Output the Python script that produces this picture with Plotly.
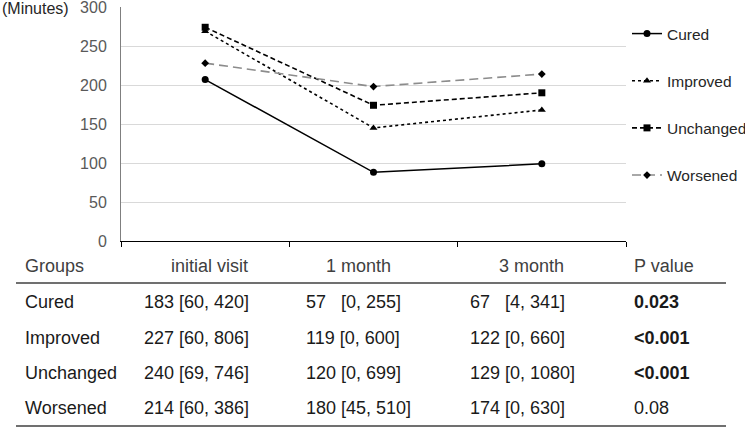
import plotly.graph_objects as go

# ---- data ----
timepoints = ["initial visit", "1 month", "3 month"]
groups = ["Cured", "Improved", "Unchanged", "Worsened"]
cured = [207, 88, 99]
improved = [269, 145, 168]
unchanged = [274, 174, 190]
worsened = [228, 198, 214]
y_ticks = [0, 50, 100, 150, 200, 250, 300]

table_header = ["Groups", "initial visit", "1 month", "3 month", "P value"]
col_initial = ["183 [60, 420]", "227 [60, 806]", "240 [69, 746]", "214 [60, 386]"]
col_1m = ["57\u00a0\u00a0 [0, 255]", "119 [0, 600]", "120 [0, 699]", "180 [45, 510]"]
col_3m = ["67\u00a0\u00a0 [4, 341]", "122 [0, 660]", "129 [0, 1080]", "174 [0, 630]"]
col_p = ["0.023", "<0.001", "<0.001", "0.08"]
p_bold = [True, True, True, False]

# ---- layout geometry (pixels) ----
W, H = 745, 428
L, R, T, B = 121, 626, 7, 241
FONT = "Arial, Liberation Sans, sans-serif"


def px_x(x):
    return (x - L) / (R - L)


def px_y(y):
    return (B - y) / (B - T)


styles = [
    dict(color="black", dash="solid", width=1.5, symbol="circle", msize=7),
    dict(color="black", dash="dot", width=1.6, symbol="triangle-up", msize=7),
    dict(color="black", dash="5px,3px", width=1.6, symbol="square", msize=7),
    dict(color="#8c8c8c", dash="9px,5px", width=1.6, symbol="diamond", msize=6),
]
series = [cured, improved, unchanged, worsened]

fig = go.Figure()
for name, vals, st in zip(groups, series, styles):
    fig.add_trace(go.Scatter(
        x=timepoints, y=vals, name=name, mode="lines+markers",
        legendgroup=name,
        line=dict(color=st["color"], dash=st["dash"], width=st["width"]),
        marker=dict(color="black", symbol=st["symbol"], size=st["msize"]),
    ))

annotations = []


def ann(text, x, y, anchor, size, color):
    annotations.append(dict(text=text, x=px_x(x), y=px_y(y), xref="paper", yref="paper",
                            xanchor=anchor, yanchor="middle", showarrow=False,
                            font=dict(size=size, color=color, family=FONT)))


ann("(Minutes)", 0, 9, "left", 16, "#262626")

# table header
header_x = [23, 250, 358, 531, 632]
header_anchor = ["left", "right", "center", "center", "left"]
header_y = 266
for txt, x, a in zip(table_header, header_x, header_anchor):
    ann(txt, x, header_y, a, 18, "#404040")

row_y = [302, 338, 373, 408]
col_x = [23, 142, 304, 468, 632]
for i, g in enumerate(groups):
    p_txt = col_p[i].replace("<", "&lt;")
    cells = [g, col_initial[i], col_1m[i], col_3m[i],
             ("<b>%s</b>" % p_txt) if p_bold[i] else p_txt]
    for txt, x in zip(cells, col_x):
        ann(txt, x, row_y[i], "left", 18, "#1a1a1a")

shapes = [
    dict(type="line", xref="paper", yref="paper", x0=px_x(16), x1=px_x(726),
         y0=px_y(283), y1=px_y(283), line=dict(color="#404040", width=1.3)),
    dict(type="line", xref="paper", yref="paper", x0=px_x(16), x1=px_x(726),
         y0=px_y(426), y1=px_y(426), line=dict(color="#404040", width=1.3)),
]

fig.update_layout(
    width=W, height=H,
    margin=dict(l=L, r=W - R, t=T, b=H - B, pad=0, autoexpand=False),
    paper_bgcolor="white", plot_bgcolor="white",
    font=dict(family=FONT, size=15, color="#262626"),
    showlegend=True,
    legend=dict(x=px_x(627), y=px_y(17), xanchor="left", yanchor="top",
                tracegroupgap=24, itemwidth=30, font=dict(size=15.5, color="#262626"),
                bgcolor="rgba(0,0,0,0)"),
    annotations=annotations,
    shapes=shapes,
)
fig.update_xaxes(type="category", showticklabels=False, showgrid=False,
                 showline=True, linecolor="black", linewidth=1.3,
                 ticks="outside", tickson="boundaries", ticklen=5,
                 tickcolor="black", range=[-0.5, 2.5])
fig.update_yaxes(range=[0, 300], tickvals=y_ticks, showgrid=True,
                 gridcolor="#d9d9d9", gridwidth=1, zeroline=False,
                 showline=True, linecolor="#7f7f7f", linewidth=1,
                 ticks="", ticklabelstandoff=10, ticklabeloverflow="allow",
                 tickfont=dict(size=16, color="#595959", family=FONT))

fig.write_html("out.html", config={"displayModeBar": False},
               post_script="document.body.style.margin='0';document.body.style.padding='0';")
